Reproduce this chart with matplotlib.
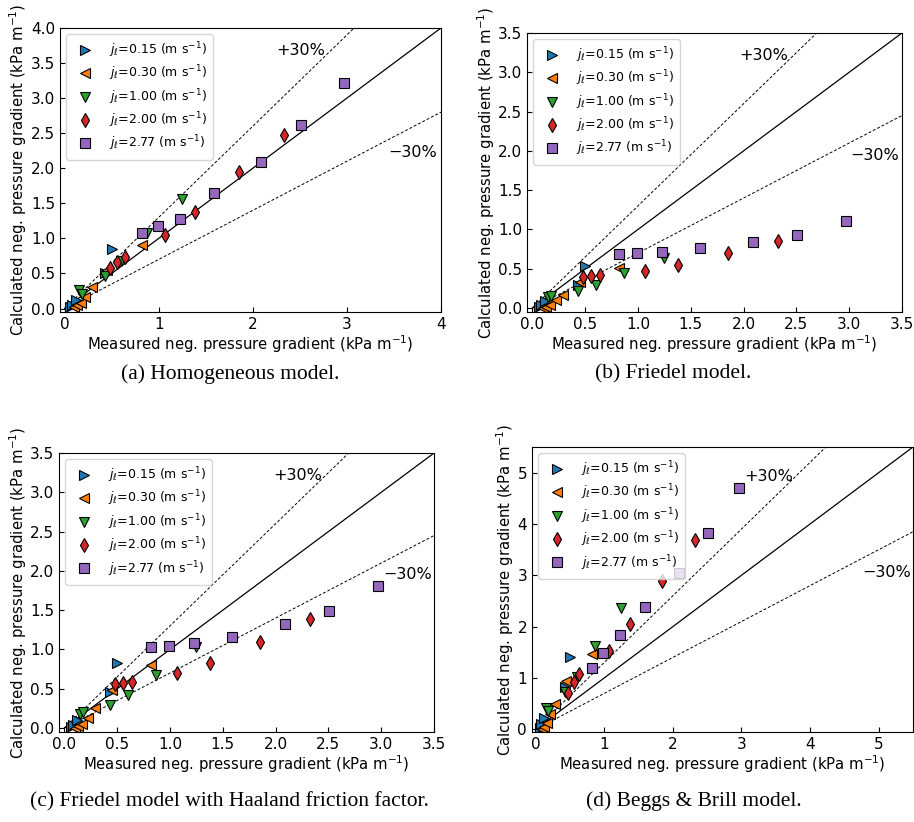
import matplotlib.pyplot as plt

# measured negative pressure gradient (kPa/m), same for all models
meas_015 = [0.06, 0.08, 0.12, 0.43, 0.50]
meas_030 = [0.10, 0.13, 0.17, 0.22, 0.29, 0.45, 0.82]
meas_100 = [0.15, 0.18, 0.43, 0.60, 0.87, 1.25]
meas_200 = [0.48, 0.56, 0.64, 1.07, 1.38, 1.85, 2.33]
meas_277 = [0.82, 0.99, 1.23, 1.59, 2.09, 2.51, 2.97]

# calculated values per model
homo_015 = [0.02, 0.05, 0.12, 0.50, 0.85]
homo_030 = [0.02, 0.05, 0.08, 0.17, 0.31, 0.55, 0.91]
homo_100 = [0.27, 0.20, 0.47, 0.68, 1.08, 1.56]
homo_200 = [0.58, 0.66, 0.73, 1.05, 1.38, 1.95, 2.48]
homo_277 = [1.07, 1.17, 1.28, 1.64, 2.09, 2.62, 3.21]

fried_015 = [0.01, 0.04, 0.09, 0.30, 0.53]
fried_030 = [0.00, 0.02, 0.04, 0.10, 0.17, 0.33, 0.51]
fried_100 = [0.14, 0.15, 0.22, 0.29, 0.45, 0.64]
fried_200 = [0.40, 0.41, 0.42, 0.47, 0.55, 0.70, 0.85]
fried_277 = [0.69, 0.70, 0.72, 0.76, 0.84, 0.93, 1.11]

haal_015 = [0.01, 0.04, 0.10, 0.46, 0.83]
haal_030 = [0.00, 0.02, 0.05, 0.13, 0.26, 0.49, 0.80]
haal_100 = [0.18, 0.20, 0.29, 0.42, 0.68, 1.03]
haal_200 = [0.56, 0.57, 0.59, 0.70, 0.83, 1.10, 1.39]
haal_277 = [1.03, 1.05, 1.08, 1.16, 1.32, 1.49, 1.81]

bb_015 = [0.03, 0.10, 0.22, 0.83, 1.41]
bb_030 = [0.00, 0.05, 0.12, 0.30, 0.50, 0.95, 1.46]
bb_100 = [0.42, 0.35, 0.72, 1.03, 1.62, 2.36]
bb_200 = [0.70, 0.92, 1.08, 1.52, 2.05, 2.90, 3.68]
bb_277 = [1.19, 1.49, 1.84, 2.38, 3.04, 3.83, 4.71]

jl_labels = ["0.15", "0.30", "1.00", "2.00", "2.77"]
markers = [">", "<", "v", "d", "s"]
colors = ["tab:blue", "tab:orange", "tab:green", "tab:red", "tab:purple"]
measured = [meas_015, meas_030, meas_100, meas_200, meas_277]

panels = [
    ([homo_015, homo_030, homo_100, homo_200, homo_277], 4.0,
     [0, 1, 2, 3, 4], [i * 0.5 for i in range(9)],
     "(a) Homogeneous model.", (2.25, 3.61), (3.44, 2.16)),
    ([fried_015, fried_030, fried_100, fried_200, fried_277], 3.5,
     [i * 0.5 for i in range(8)], [i * 0.5 for i in range(8)],
     "(b) Friedel model.", (1.96, 3.16), (3.01, 1.89)),
    ([haal_015, haal_030, haal_100, haal_200, haal_277], 3.5,
     [i * 0.5 for i in range(8)], [i * 0.5 for i in range(8)],
     "(c) Friedel model with Haaland friction factor.", (1.98, 3.16), (3.02, 1.90)),
    ([bb_015, bb_030, bb_100, bb_200, bb_277], 5.5,
     [0, 1, 2, 3, 4, 5], [0, 1, 2, 3, 4, 5],
     "(d) Beggs & Brill model.", (3.04, 4.83), (4.76, 2.97)),
]

rects = [
    [0.0656, 0.6204, 0.4169, 0.3456],
    [0.5766, 0.6204, 0.4103, 0.3395],
    [0.0646, 0.1095, 0.4103, 0.3394],
    [0.5820, 0.1095, 0.4169, 0.3467],
]
caption_pos = [(0.252, 0.545), (0.737, 0.545), (0.251, 0.025), (0.759, 0.025)]

plt.rcParams.update({
    "font.size": 11,
    "xtick.direction": "in",
    "ytick.direction": "in",
})

fig = plt.figure(figsize=(9.14, 8.22), dpi=100)

for (calc, lim, xt, yt, caption, ppos, mpos), rect, cpos in zip(panels, rects, caption_pos):
    ax = fig.add_axes(rect)
    line = [0, lim]
    ax.plot(line, line, color="black", lw=0.9)
    ax.plot(line, [1.3 * v for v in line], color="black", lw=0.7, ls=(0, (3, 2)))
    ax.plot(line, [0.7 * v for v in line], color="black", lw=0.7, ls=(0, (3, 2)))
    for xs, ys, lab, mk, col in zip(measured, calc, jl_labels, markers, colors):
        ax.plot(xs, ys, ls="none", marker=mk, ms=7.5, mfc=col, mec="black", mew=0.8,
                label=r"$j_\ell$=" + lab + r" (m s$^{-1}$)")
    ax.text(ppos[0], ppos[1], "+30%", fontsize=11.5)
    ax.text(mpos[0], mpos[1], "\u221230%", fontsize=11.5)
    ax.set_xlim(-0.05, lim)
    ax.set_ylim(-0.05, lim)
    ax.set_xticks(xt)
    ax.set_yticks(yt)
    ax.set_xlabel(r"Measured neg. pressure gradient (kPa m$^{-1}$)", fontsize=10.7, labelpad=1)
    ax.set_ylabel(r"Calculated neg. pressure gradient (kPa m$^{-1}$)", fontsize=10.7, labelpad=1)
    ax.legend(loc="upper left", fontsize=9, handletextpad=0.9, borderpad=0.5,
              labelspacing=0.3)
    fig.text(cpos[0], cpos[1], caption, ha="center", va="center",
             family="Liberation Serif", fontsize=15.5)

fig.savefig("out.png", dpi=100)
